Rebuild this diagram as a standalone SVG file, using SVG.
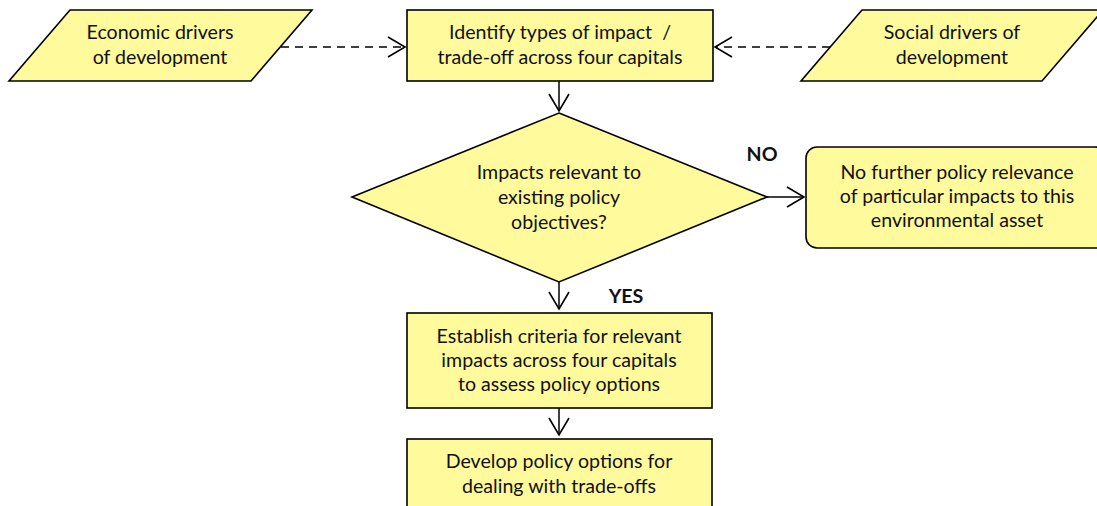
<svg xmlns="http://www.w3.org/2000/svg" width="1097" height="506" viewBox="0 0 1097 506">
<style>
.n{fill:#FFFA9C;stroke:#000;stroke-width:1.6}
.t{font-family:Lato,"Open Sans",sans-serif;font-size:19.6px;fill:#111;text-anchor:middle}
.b{font-family:Lato,"Open Sans",sans-serif;font-size:19.6px;font-weight:bold;fill:#111;text-anchor:middle}
.c{fill:none;stroke:#000;stroke-width:1.5}
.d{stroke-dasharray:8,6}
</style>
<defs>
<marker id="ah" markerUnits="userSpaceOnUse" markerWidth="22" markerHeight="24" refX="18" refY="11" orient="auto">
<path d="M1,1 L18,11 L1,21" fill="none" stroke="#000" stroke-width="1.6"/>
</marker>
</defs>
<rect width="1097" height="506" fill="#fff"/>
<g id="connectors">
<line class="c d" x1="281" y1="47" x2="405" y2="47" marker-end="url(#ah)"/>
<line class="c d" x1="830" y1="47" x2="715" y2="47" marker-end="url(#ah)"/>
<line class="c" x1="559" y1="81" x2="559" y2="111" marker-end="url(#ah)"/>
<line class="c" x1="767" y1="197" x2="804" y2="197" marker-end="url(#ah)"/>
<line class="c" x1="559" y1="282" x2="559" y2="309" marker-end="url(#ah)"/>
<line class="c" x1="559" y1="408" x2="559" y2="435" marker-end="url(#ah)"/>
<text class="b" x="762" y="161">NO</text>
<text class="b" x="626" y="303">YES</text>
</g>
<g id="economic">
<polygon class="n" points="70,10 312,10 251,81 9,81"/>
<text class="t" x="160" y="39">Economic drivers</text>
<text class="t" x="160" y="64">of development</text>
</g>
<g id="identify">
<rect class="n" x="407" y="10" width="306" height="71"/>
<text class="t" x="560" y="39">Identify types of impact&#160; /</text>
<text class="t" x="560" y="64">trade-off across four capitals</text>
</g>
<g id="social">
<polygon class="n" points="862,10 1103,10 1042,81 801,81"/>
<text class="t" x="952" y="39">Social drivers of</text>
<text class="t" x="952" y="64">development</text>
</g>
<g id="decision">
<polygon class="n" points="559,113 767,197 559,282 352,197"/>
<text class="t" x="559" y="179">Impacts relevant to</text>
<text class="t" x="559" y="204">existing policy</text>
<text class="t" x="559" y="229">objectives?</text>
</g>
<g id="nofurther">
<rect class="n" x="806" y="147" width="300" height="101" rx="11"/>
<text class="t" x="957" y="179">No further policy relevance</text>
<text class="t" x="957" y="203">of particular impacts to this</text>
<text class="t" x="957" y="227">environmental asset</text>
</g>
<g id="establish">
<rect class="n" x="407" y="313" width="305" height="95"/>
<text class="t" x="559" y="343">Establish criteria for relevant</text>
<text class="t" x="559" y="367">impacts across four capitals</text>
<text class="t" x="559" y="391">to assess policy options</text>
</g>
<g id="develop">
<rect class="n" x="407" y="439" width="305" height="80"/>
<text class="t" x="559" y="468">Develop policy options for</text>
<text class="t" x="559" y="493">dealing with trade-offs</text>
</g>
</svg>
